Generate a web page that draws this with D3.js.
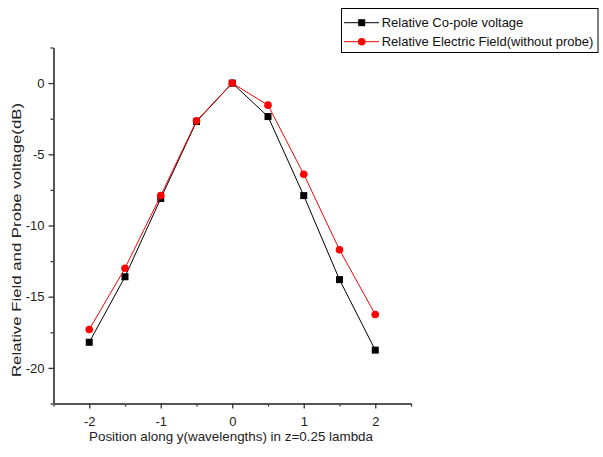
<!DOCTYPE html>
<meta charset="utf-8" />
<script src="https://d3js.org/d3.v7.min.js"></script>
<style>
  body { margin: 0; background: #fff; }
  svg { font-family: "Liberation Sans", Arial, sans-serif; }
</style>
<svg id="chart" width="603" height="457"></svg>
<script>
  // data
  var positions = [-2, -1.5, -1, -0.5, 0, 0.5, 1, 1.5, 2];
  var coPole = [-18.2, -13.6, -8.1, -2.7, 0, -2.35, -7.9, -13.8, -18.75];
  var eField = [-17.3, -13.0, -7.9, -2.65, 0, -1.55, -6.4, -11.7, -16.25];
  var xTicks = [-2, -1, 0, 1, 2];
  var xMinor = [-2.5, -1.5, -0.5, 0.5, 1.5, 2.5];
  var yTicks = [-20, -15, -10, -5, 0];
  var yMinor = [-22.5, -17.5, -12.5, -7.5, -2.5, 2.5];
  var seriesNames = ["Relative Co-pole voltage", "Relative Electric Field(without probe)"];

  var svg = d3.select("#chart");

  var x = d3.scaleLinear().domain([-2.5, 2.5]).range([53.5, 411]);
  var y = d3.scaleLinear().domain([-22.5, 2.5]).range([403.5, 47.5]);

  // plain hyphen minus like the original
  var fmt = function(d) { return String(d); };

  // minor ticks
  svg.append("g")
    .attr("transform", "translate(0," + y.range()[0] + ")")
    .call(d3.axisBottom(x).tickValues(xMinor).tickSize(3).tickFormat(""))
    .call(function(g) { g.select(".domain").remove(); });
  svg.append("g")
    .attr("transform", "translate(" + x.range()[0] + ",0)")
    .call(d3.axisLeft(y).tickValues(yMinor).tickSize(3).tickFormat(""))
    .call(function(g) { g.select(".domain").remove(); });

  // major axes
  svg.append("g")
    .attr("transform", "translate(0," + y.range()[0] + ")")
    .call(d3.axisBottom(x).tickValues(xTicks).tickFormat(fmt).tickSize(5).tickSizeOuter(0).tickPadding(8));
  svg.append("g")
    .attr("transform", "translate(" + x.range()[0] + ",0)")
    .call(d3.axisLeft(y).tickValues(yTicks).tickFormat(fmt).tickSize(5).tickSizeOuter(0).tickPadding(4));

  svg.selectAll(".tick line").attr("stroke", "#333").attr("stroke-width", 1.3);
  svg.selectAll(".domain").attr("stroke", "#555").attr("stroke-width", 2);
  svg.selectAll(".tick text")
    .attr("fill", "#222")
    .style("font-size", "13px")
    .style("font-family", "'Liberation Sans', Arial, sans-serif");

  // axis titles
  svg.append("text")
    .attr("x", 231)
    .attr("y", 441)
    .attr("text-anchor", "middle")
    .attr("fill", "#222")
    .style("font-size", "13.4px")
    .text("Position along y(wavelengths) in z=0.25 lambda");

  svg.append("text")
    .attr("transform", "translate(20.5,240) rotate(-90)")
    .attr("text-anchor", "middle")
    .attr("fill", "#222")
    .attr("textLength", 274)
    .attr("lengthAdjust", "spacingAndGlyphs")
    .style("font-size", "13px")
    .text("Relative Field and Probe voltage(dB)");

  var line = d3.line()
    .x(function(d) { return x(d[0]); })
    .y(function(d) { return y(d[1]); });

  var blackData = d3.zip(positions, coPole);
  var redData = d3.zip(positions, eField);

  // black series
  svg.append("path")
    .datum(blackData)
    .attr("d", line)
    .attr("fill", "none")
    .attr("stroke", "#000")
    .attr("stroke-width", 1);
  svg.selectAll("rect.pt")
    .data(blackData)
    .enter()
    .append("rect")
    .attr("class", "pt")
    .attr("x", function(d) { return x(d[0]) - 3.5; })
    .attr("y", function(d) { return y(d[1]) - 3.5; })
    .attr("width", 7)
    .attr("height", 7)
    .attr("fill", "#000");

  // red series
  svg.append("path")
    .datum(redData)
    .attr("d", line)
    .attr("fill", "none")
    .attr("stroke", "#f00")
    .attr("stroke-width", 1);
  svg.selectAll("circle.pt")
    .data(redData)
    .enter()
    .append("circle")
    .attr("class", "pt")
    .attr("cx", function(d) { return x(d[0]); })
    .attr("cy", function(d) { return y(d[1]); })
    .attr("r", 3.8)
    .attr("fill", "#f00");

  // legend
  var legend = svg.append("g");
  legend.append("rect")
    .attr("x", 341.5)
    .attr("y", 8.5)
    .attr("width", 256.5)
    .attr("height", 44)
    .attr("fill", "#fff")
    .attr("stroke", "#000")
    .attr("stroke-width", 1);

  var colors = ["#000", "#f00"];
  seriesNames.forEach(function(name, i) {
    var cy = 22.7 + i * 19;
    legend.append("line")
      .attr("x1", 344).attr("x2", 379)
      .attr("y1", cy).attr("y2", cy)
      .attr("stroke", colors[i])
      .attr("stroke-width", 1);
    if (i === 0) {
      legend.append("rect")
        .attr("x", 361.7 - 3.5).attr("y", cy - 3.5)
        .attr("width", 7).attr("height", 7)
        .attr("fill", "#000");
    } else {
      legend.append("circle")
        .attr("cx", 361.7).attr("cy", cy)
        .attr("r", 3.8)
        .attr("fill", "#f00");
    }
    legend.append("text")
      .attr("x", 381.7)
      .attr("y", cy + 4.6)
      .attr("fill", "#111")
      .style("font-size", "13px")
      .text(name);
  });
</script>
